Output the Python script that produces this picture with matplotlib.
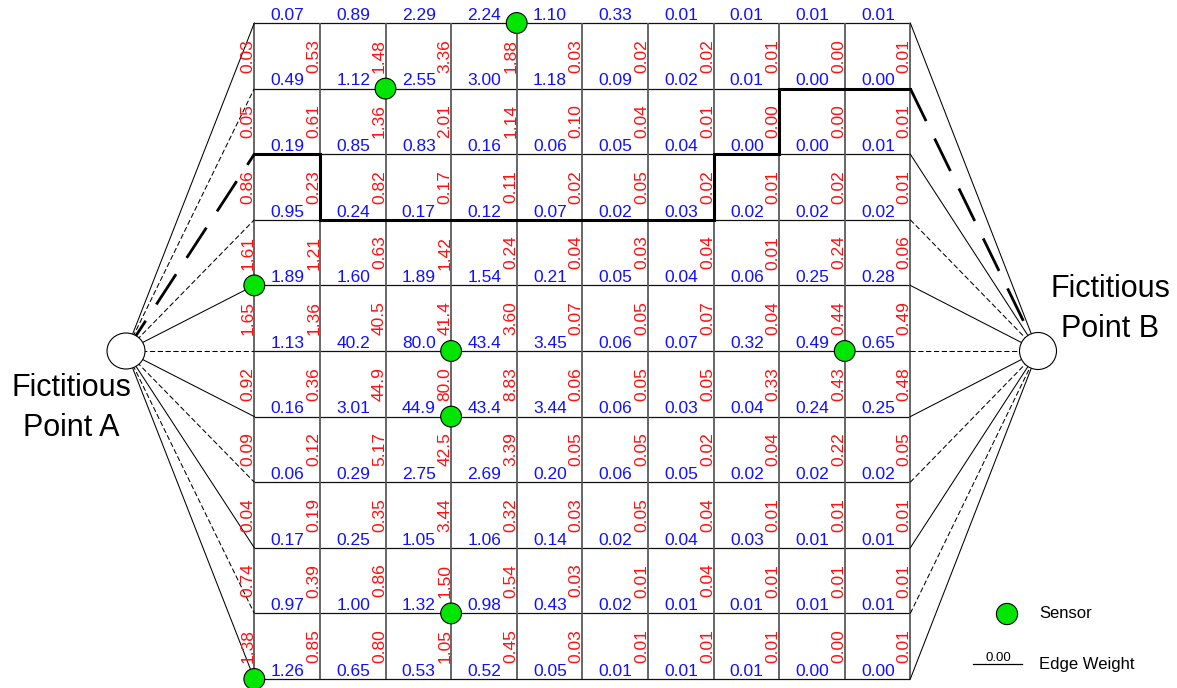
import matplotlib
matplotlib.use("Agg")
import matplotlib.pyplot as plt
from matplotlib.patches import Circle, Ellipse

plt.rcParams['font.family'] = ['Liberation Sans', 'DejaVu Sans']

# ---------------- data ----------------
# horizontal edge weights (blue), one row per horizontal grid line (top -> bottom)
h_weights = [
    [0.07, 0.89, 2.29, 2.24, 1.10, 0.33, 0.01, 0.01, 0.01, 0.01],
    [0.49, 1.12, 2.55, 3.00, 1.18, 0.09, 0.02, 0.01, 0.00, 0.00],
    [0.19, 0.85, 0.83, 0.16, 0.06, 0.05, 0.04, 0.00, 0.00, 0.01],
    [0.95, 0.24, 0.17, 0.12, 0.07, 0.02, 0.03, 0.02, 0.02, 0.02],
    [1.89, 1.60, 1.89, 1.54, 0.21, 0.05, 0.04, 0.06, 0.25, 0.28],
    [1.13, 40.2, 80.0, 43.4, 3.45, 0.06, 0.07, 0.32, 0.49, 0.65],
    [0.16, 3.01, 44.9, 43.4, 3.44, 0.06, 0.03, 0.04, 0.24, 0.25],
    [0.06, 0.29, 2.75, 2.69, 0.20, 0.06, 0.05, 0.02, 0.02, 0.02],
    [0.17, 0.25, 1.05, 1.06, 0.14, 0.02, 0.04, 0.03, 0.01, 0.01],
    [0.97, 1.00, 1.32, 0.98, 0.43, 0.02, 0.01, 0.01, 0.01, 0.01],
    [1.26, 0.65, 0.53, 0.52, 0.05, 0.01, 0.01, 0.01, 0.00, 0.00],
]
# vertical edge weights (red), one row per cell row, one value per vertical grid line
v_weights = [
    [0.03, 0.53, 1.48, 3.36, 1.88, 0.03, 0.02, 0.02, 0.01, 0.00, 0.01],
    [0.05, 0.61, 1.36, 2.01, 1.14, 0.10, 0.04, 0.01, 0.00, 0.00, 0.01],
    [0.86, 0.23, 0.82, 0.17, 0.11, 0.02, 0.05, 0.02, 0.01, 0.02, 0.01],
    [1.61, 1.21, 0.63, 1.42, 0.24, 0.04, 0.03, 0.04, 0.01, 0.24, 0.06],
    [1.65, 1.36, 40.5, 41.4, 3.60, 0.07, 0.05, 0.07, 0.04, 0.44, 0.49],
    [0.92, 0.36, 44.9, 80.0, 8.83, 0.06, 0.05, 0.05, 0.33, 0.43, 0.48],
    [0.09, 0.12, 5.17, 42.5, 3.39, 0.05, 0.05, 0.02, 0.04, 0.22, 0.05],
    [0.04, 0.19, 0.35, 3.44, 0.32, 0.03, 0.05, 0.04, 0.01, 0.01, 0.01],
    [0.74, 0.39, 0.86, 1.50, 0.54, 0.03, 0.01, 0.04, 0.01, 0.01, 0.01],
    [1.38, 0.85, 0.80, 1.05, 0.45, 0.03, 0.01, 0.01, 0.01, 0.00, 0.01],
]
# sensor nodes (column, row) in grid-node indices
sensor_cols = [4, 2, 0, 3, 9, 3, 3, 0]
sensor_rows = [0, 1, 4, 5, 5, 6, 9, 10]
# shortest path through grid nodes (column, row)
path_cols = [0, 1, 1, 7, 7, 8, 8, 10]
path_rows = [2, 2, 3, 3, 2, 2, 1, 1]
path_start_row = 2   # node on left boundary linked from Point A
path_end_row = 1     # node on right boundary linked to Point B

# ---------------- layout (pixels) ----------------
W, H = 1177, 688
X0, Y0, D = 254.3, 23.0, 65.6
NC, NR = 10, 10
AX, AY = 126, 351
BX, BY = 1038, 351


def nx(c):
    return X0 + c * D


def ny(r):
    return Y0 + r * D


def fmt(v):
    return f"{v:.1f}" if v >= 10 else f"{v:.2f}"


fig = plt.figure(figsize=(W / 100, H / 100), dpi=100)
ax = fig.add_axes([0, 0, 1, 1])
ax.set_xlim(0, W)
ax.set_ylim(H, 0)
ax.axis('off')

# grid lines
for r in range(NR + 1):
    ax.plot([nx(0), nx(NC)], [ny(r), ny(r)], color='#111111', lw=0.9, zorder=1,
            solid_capstyle='butt')
for c in range(NC + 1):
    ax.plot([nx(c), nx(c)], [ny(0), ny(NR)], color='#5a5a5a', lw=1.3, zorder=1,
            solid_capstyle='butt')

# fan lines to fictitious points
for r in range(NR + 1):
    # Point A
    if r == path_start_row:
        ax.plot([AX, nx(0)], [AY, ny(r)], color='black', lw=2.0,
                linestyle=(0, (13, 7)), zorder=2)
    elif r % 2 == 0:
        ax.plot([AX, nx(0)], [AY, ny(r)], color='black', lw=0.75, zorder=1)
    else:
        ax.plot([AX, nx(0)], [AY, ny(r)], color='black', lw=0.75,
                linestyle=(0, (5, 2.5)), zorder=1)
    # Point B
    if r == path_end_row:
        ax.plot([nx(NC), BX], [ny(r), BY], color='black', lw=2.0,
                linestyle=(0, (13, 7)), zorder=2)
    elif r % 2 == 0:
        ax.plot([nx(NC), BX], [ny(r), BY], color='black', lw=0.75, zorder=1)
    else:
        ax.plot([nx(NC), BX], [ny(r), BY], color='black', lw=0.75,
                linestyle=(0, (5, 2.5)), zorder=1)

# bold path
ax.plot([nx(c) for c in path_cols], [ny(r) for r in path_rows], color='black',
        lw=2.2, zorder=2, solid_joinstyle='miter', solid_capstyle='projecting')

# horizontal edge weights (blue)
for r, row in enumerate(h_weights):
    for c, v in enumerate(row):
        ax.text(nx(c) + D / 2 + 0.5, ny(r) - 3.2, fmt(v), color='#1010ff',
                fontsize=12.5, ha='center', va='baseline', zorder=3)

# vertical edge weights (red)
for r, row in enumerate(v_weights):
    for c, v in enumerate(row):
        ax.text(nx(c) - 1.5, ny(r) + D / 2, fmt(v), color='#ff1010',
                fontsize=12.5, ha='center', va='baseline', rotation=90,
                rotation_mode='anchor', zorder=3)

# sensors
for c, r in zip(sensor_cols, sensor_rows):
    ax.add_patch(Circle((nx(c), ny(r)), 10.4, facecolor='#00e600',
                        edgecolor='black', lw=0.8, zorder=4))

# fictitious points
ax.add_patch(Ellipse((AX, AY), 38, 36, facecolor='white', edgecolor='black',
                     lw=0.8, zorder=5))
ax.add_patch(Circle((BX, BY), 18.5, facecolor='white', edgecolor='black',
                    lw=0.8, zorder=5))
ax.text(71, 396, "Fictitious", fontsize=22, ha='center', va='baseline')
ax.text(71, 436, "Point A", fontsize=22, ha='center', va='baseline')
ax.text(1110, 297, "Fictitious", fontsize=22, ha='center', va='baseline')
ax.text(1110, 337, "Point B", fontsize=22, ha='center', va='baseline')

# legend
ax.add_patch(Circle((1007, 614), 10.6, facecolor='#00e600', edgecolor='black',
                    lw=0.8, zorder=4))
ax.text(1039, 614, "Sensor", fontsize=12, ha='left', va='center')
ax.plot([973, 1022], [664, 664], color='black', lw=0.9)
ax.text(998, 661, "0.00", fontsize=9.5, ha='center', va='baseline')
ax.text(1039, 665, "Edge Weight", fontsize=12, ha='left', va='center')

fig.savefig("out.png", dpi=100)
